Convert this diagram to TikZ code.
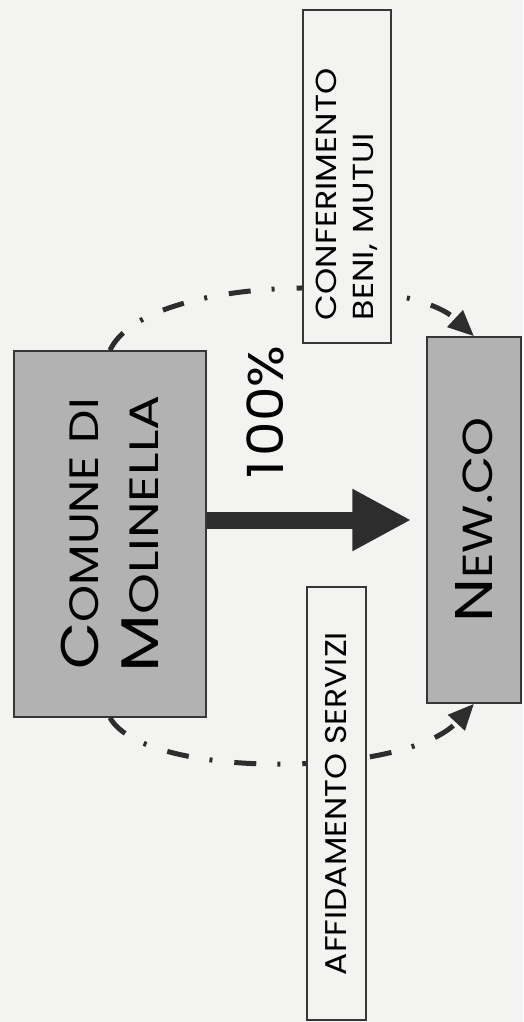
\documentclass[tikz,border=0pt]{standalone}
\usepackage{fontspec}
\setmainfont{Poppins}
\usetikzlibrary{arrows.meta}
\definecolor{bgc}{RGB}{243,243,241}
\definecolor{boxgray}{RGB}{178,178,178}
\definecolor{edgec}{RGB}{55,55,55}
\definecolor{arrowc}{RGB}{45,45,45}
\newcommand\fakesc[4]{{\fontsize{#1}{#1}\selectfont #2}{\fontsize{#3}{#3}\selectfont #4}}
\newcommand\hstretch[2]{\scalebox{#1}[1]{#2}}
\tikzset{
  mainbox/.style={draw=edgec, line width=1.5pt, fill=boxgray, rotate=90, inner sep=0pt, align=center},
  labelbox/.style={draw=edgec, line width=1.2pt, fill=bgc, rotate=90, inner sep=0pt},
  dashdot/.style={draw=arrowc, line width=5pt, dash pattern=on 22pt off 21pt on 3pt off 22pt,
    -{Triangle[length=26pt,width=22pt]}},
  bigarrow/.style={draw=arrowc, line width=17pt, -{Triangle[length=59pt,width=58pt]}, shorten >=15pt}
}
\begin{document}
\begin{tikzpicture}[x=1pt,y=-1pt]
\useasboundingbox (0,0) rectangle (523,1022);
\fill[bgc] (0,0) rectangle (523,1022);
\node[mainbox, minimum width=366pt, minimum height=192pt] (comune) at (110,534)
  {\hstretch{1.15}{\fakesc{53}{C}{41}{OMUNE DI}}\\[22pt]\hstretch{1.27}{\fakesc{53}{M}{41}{OLINELLA}}};
\node[mainbox, minimum width=366pt, minimum height=94pt] (newco) at (474,520)
  {\hstretch{1.18}{\fakesc{53}{N}{42}{EW.CO}}};
\coordinate (astart) at (comune.south |- newco.north);
\draw[bigarrow] (astart) -- (newco.north);
\node[rotate=90, inner sep=0pt, font=\fontsize{50}{50}\selectfont] (pct) at (265.5,412) {\hstretch{1.1}{1\kern4pt00\%}};
\draw[dashdot] (comune.east) .. controls (145,275) and (405,272) .. (newco.east);
\draw[dashdot] (comune.west) .. controls (145,780) and (405,778) .. (newco.west);
\node[labelbox, minimum width=333pt, minimum height=88pt, text width=287pt, align=left,
  font=\fontsize{29}{37}\selectfont] (conf) at (347,176.5) {\hstretch{1.15}{CONFERIMENTO}\\\hstretch{1.15}{BENI, MUTUI}};
\node[labelbox, minimum width=433pt, minimum height=59pt, align=center,
  font=\fontsize{30}{30}\selectfont] (affid) at (336.5,803.5) {\hstretch{1.1}{AFFIDAMENTO SERVIZI}};
\end{tikzpicture}
\end{document}
